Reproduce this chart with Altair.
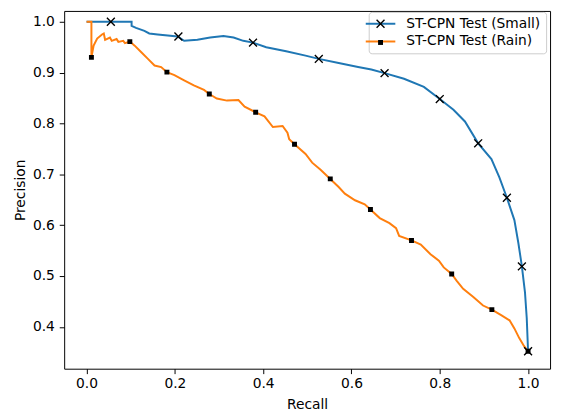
import altair as alt
import pandas as pd

SMALL = "ST-CPN Test (Small)"
RAIN = "ST-CPN Test (Rain)"
series_names = [SMALL, RAIN]
series_colors = ["#1f77b4", "#ff7f0e"]
marker_names = ["marker small", "marker rain"]

small_recall = [0.0, 0.055, 0.102, 0.102, 0.112, 0.131, 0.142, 0.161, 0.184, 0.206,
                0.221, 0.251, 0.280, 0.310, 0.333, 0.355, 0.377, 0.407, 0.452, 0.496,
                0.526, 0.571, 0.615, 0.645, 0.675, 0.719, 0.764, 0.800, 0.831, 0.857,
                0.887, 0.917, 0.935, 0.952, 0.969, 0.978, 0.986, 0.993, 0.997, 1.0]
small_precision = [1.0, 1.0, 1.0, 0.992, 0.988, 0.982, 0.977, 0.975, 0.973, 0.971,
                   0.9625, 0.9645, 0.969, 0.972, 0.969, 0.9625, 0.959, 0.950, 0.942, 0.9335,
                   0.927, 0.919, 0.911, 0.906, 0.899, 0.888, 0.872, 0.848, 0.827, 0.804,
                   0.761, 0.730, 0.694, 0.654, 0.610, 0.565, 0.519, 0.468, 0.417, 0.352]

rain_recall = [0.0, 0.011, 0.011, 0.016, 0.024, 0.035, 0.039, 0.042, 0.053, 0.057,
               0.068, 0.072, 0.083, 0.087, 0.098, 0.109, 0.124, 0.139, 0.154, 0.169,
               0.182, 0.199, 0.221, 0.243, 0.266, 0.278, 0.295, 0.318, 0.344, 0.358,
               0.383, 0.403, 0.422, 0.444, 0.455, 0.459, 0.471, 0.496, 0.511, 0.530,
               0.552, 0.571, 0.585, 0.608, 0.630, 0.643, 0.664, 0.686, 0.701, 0.708,
               0.736, 0.757, 0.779, 0.798, 0.809, 0.827, 0.838, 0.853, 0.876, 0.898,
               0.918, 0.939, 0.958, 0.969, 0.980, 0.991, 1.0]
rain_precision = [1.0, 1.0, 0.930, 0.953, 0.967, 0.975, 0.977, 0.9645, 0.969, 0.9625,
                  0.966, 0.9605, 0.9625, 0.958, 0.961, 0.953, 0.940, 0.927, 0.914, 0.911,
                  0.901, 0.895, 0.885, 0.875, 0.866, 0.858, 0.849, 0.845, 0.846, 0.833,
                  0.822, 0.814, 0.793, 0.795, 0.782, 0.769, 0.759, 0.740, 0.723, 0.709,
                  0.691, 0.675, 0.662, 0.649, 0.641, 0.631, 0.614, 0.604, 0.594, 0.579,
                  0.570, 0.562, 0.543, 0.530, 0.517, 0.504, 0.491, 0.475, 0.459, 0.442,
                  0.434, 0.423, 0.413, 0.397, 0.378, 0.362, 0.352]

small_mark_recall = [0.055, 0.208, 0.377, 0.526, 0.675, 0.800, 0.887, 0.952, 0.986, 1.0]
small_mark_precision = [1.0, 0.971, 0.959, 0.927, 0.899, 0.848, 0.761, 0.654, 0.519, 0.352]
rain_mark_recall = [0.011, 0.098, 0.182, 0.278, 0.383, 0.471, 0.552, 0.643, 0.736, 0.827, 0.918, 1.0]
rain_mark_precision = [0.930, 0.961, 0.901, 0.858, 0.822, 0.759, 0.691, 0.631, 0.570, 0.504, 0.434, 0.352]

x_ticks = [0.0, 0.2, 0.4, 0.6, 0.8, 1.0]
y_ticks = [0.4, 0.5, 0.6, 0.7, 0.8, 0.9, 1.0]

lines = pd.DataFrame({
    "recall": small_recall + rain_recall,
    "precision": small_precision + rain_precision,
    "series": [SMALL] * len(small_recall) + [RAIN] * len(rain_recall),
    "idx": list(range(len(small_recall))) + list(range(len(rain_recall))),
})
marks = pd.DataFrame({
    "recall": small_mark_recall + rain_mark_recall,
    "precision": small_mark_precision + rain_mark_precision,
    "marker": [marker_names[0]] * len(small_mark_recall) + [marker_names[1]] * len(rain_mark_recall),
})

# filled "x" outline (thin diagonal cross) and filled square, in unit symbol space
X_PATH = ("M0,0.198L0.701,0.899L0.899,0.701L0.198,0L0.899,-0.701L0.701,-0.899"
          "L0,-0.198L-0.701,-0.899L-0.899,-0.701L-0.198,0L-0.899,0.701L-0.701,0.899Z")
SQ_PATH = "M-0.5,-0.5H0.5V0.5H-0.5Z"
LINE_PATH = "M-3,0H3"

x_enc = alt.X("recall:Q", scale=alt.Scale(domain=[-0.0507, 1.0498], nice=False, zero=False),
              axis=alt.Axis(values=x_ticks, format=".1f", title="Recall"))
y_enc = alt.Y("precision:Q", scale=alt.Scale(domain=[0.3178, 1.0213], nice=False, zero=False),
              axis=alt.Axis(values=y_ticks, format=".1f", title="Precision"))

common_legend = dict(title=None, orient="none", legendX=309, legendY=1,
                     symbolSize=100, labelFont="DejaVu Sans", labelFontSize=14,
                     labelOffset=19, padding=5, rowPadding=4)

line_layer = alt.Chart(lines).mark_line(strokeWidth=2, clip=True).encode(
    x=x_enc, y=y_enc,
    color=alt.Color("series:N", scale=alt.Scale(domain=series_names, range=series_colors),
                    legend=alt.Legend(symbolType=LINE_PATH, symbolStrokeWidth=2,
                                      labelColor="black",
                                      strokeColor="#cccccc", cornerRadius=3,
                                      **common_legend)),
    order="idx:Q",
)

point_layer = alt.Chart(marks).mark_point(filled=True, fill="black", strokeWidth=0,
                                          size=100, opacity=1, clip=True).encode(
    x=x_enc, y=y_enc,
    shape=alt.Shape("marker:N", scale=alt.Scale(domain=marker_names, range=[X_PATH, SQ_PATH]),
                    legend=alt.Legend(symbolStrokeWidth=1.3, symbolFillColor="black",
                                      symbolOpacity=1,
                                      labelColor="transparent",
                                      labelExpr="datum.value == 'marker small' ? 'ST-CPN Test (Small)' : 'ST-CPN Test (Rain)'",
                                      **common_legend)),
)

chart = alt.layer(line_layer, point_layer).properties(
    width=493, height=363,
    padding={"left": 57, "top": 0, "right": 4, "bottom": 44},
    autosize=alt.AutoSizeParams(type="none"),
).configure(font="DejaVu Sans").configure_view(
    stroke="black", strokeWidth=1
).configure_axis(
    grid=False, domain=False, tickColor="black", tickSize=5, tickWidth=1,
    labelFont="DejaVu Sans", labelFontSize=14, labelColor="black",
    titleFont="DejaVu Sans", titleFontSize=14, titleFontWeight="normal", titleColor="black",
).configure_axisX(labelPadding=3, titlePadding=7).configure_axisY(labelPadding=5, titlePadding=5)

chart.save("out.html", embed_options={"renderer": "svg", "actions": False})
